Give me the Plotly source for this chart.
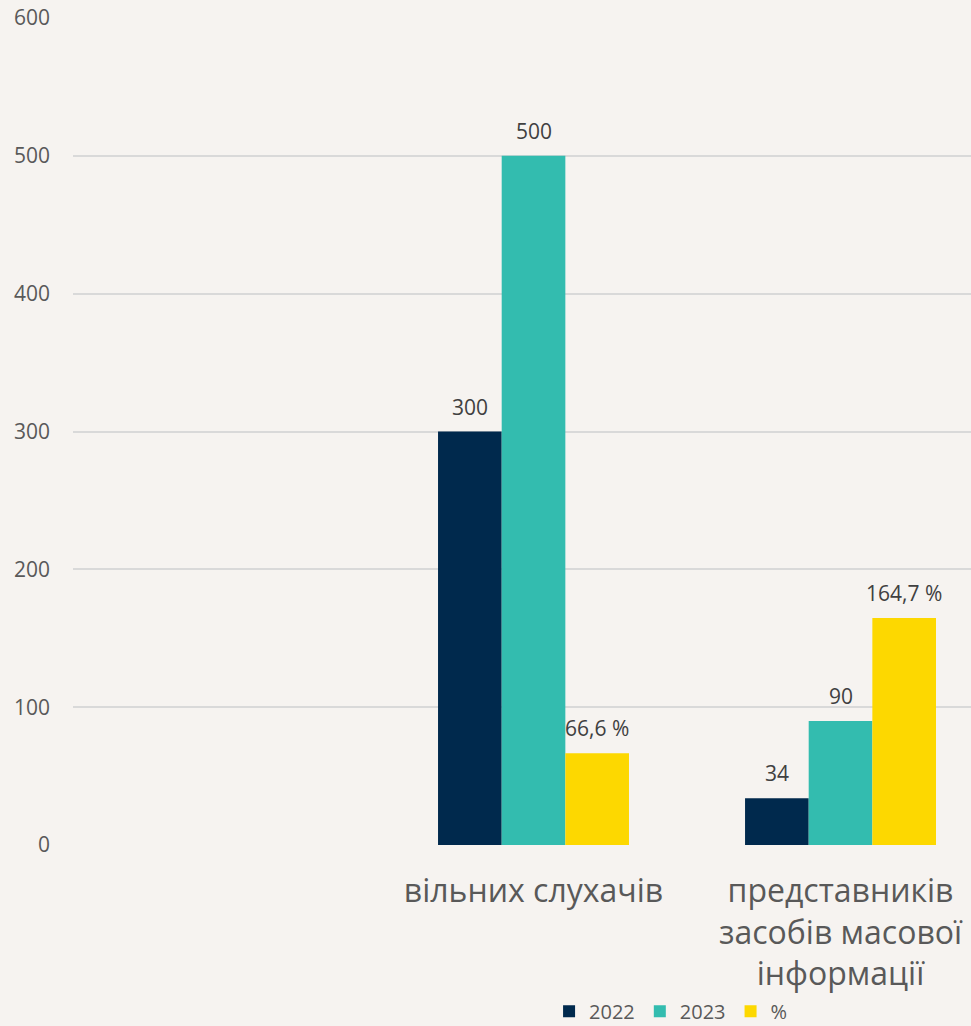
import plotly.graph_objects as go

categories = ["", "вільних слухачів", "представників<br>засобів масової<br>інформації"]
series_names = ["2022", "2023", "%"]
values_2022 = [None, 300, 34]
values_2023 = [None, 500, 90]
values_pct = [None, 66.6, 164.7]
y_ticks = [0, 100, 200, 300, 400, 500, 600]

colors = ["#00294D", "#33BCAF", "#FDD800"]
bg = "#F6F3F0"
bargap = 0.378

def fmt(v, pct=False):
    if v is None:
        return ""
    if pct:
        return f"{v:.1f}".replace(".", ",") + " %"
    return f"{v:g}"

xs = list(range(len(categories)))
fig = go.Figure()
series = [
    ("2022", values_2022, colors[0], False),
    ("2023", values_2023, colors[1], False),
    ("%", values_pct, colors[2], True),
]
w = (1 - bargap) / len(series)
for k, (name, vals, col, pct) in enumerate(series):
    fig.add_trace(go.Bar(
        x=xs, y=vals, name=name, marker=dict(color=col, line=dict(width=0)),
    ))
    for i, v in enumerate(vals):
        if v is None:
            continue
        fig.add_annotation(
            x=xs[i] + (k - 1) * w, y=v, text=fmt(v, pct), showarrow=False,
            yanchor="middle", yshift=25,
            font=dict(size=21, color="#404040", family="Open Sans"),
        )

fig.update_layout(
    barmode="group", bargap=bargap, bargroupgap=0,
    paper_bgcolor=bg, plot_bgcolor=bg,
    width=971, height=1026,
    margin=dict(l=73, r=0, t=18, b=181, autoexpand=False),
    font=dict(family="Open Sans", color="#595959"),
    showlegend=True,
    legend=dict(orientation="h", x=0.666, xanchor="center", y=-0.201, yanchor="middle",
                font=dict(size=20, color="#595959"), itemwidth=30, bgcolor="rgba(0,0,0,0)",
                tracegroupgap=0),
)
fig.update_xaxes(
    range=[-0.5, 2.425], tickvals=xs, ticktext=categories, automargin=False,
    showgrid=False, zeroline=False, showline=False, ticks="",
    tickfont=dict(size=32, color="#595959"), ticklabelstandoff=24,
)
fig.update_yaxes(
    range=[0, 600], tickvals=y_ticks, showgrid=True, gridcolor="#D9D9D9", gridwidth=1.5,
    zeroline=False, showline=False, ticks="", automargin=False,
    tickfont=dict(size=21, color="#595959"), ticklabelstandoff=22,
)
fig.write_html("out.html", config={"displayModeBar": False},
               post_script="document.body.style.margin='0';document.documentElement.style.overflow='hidden';")
